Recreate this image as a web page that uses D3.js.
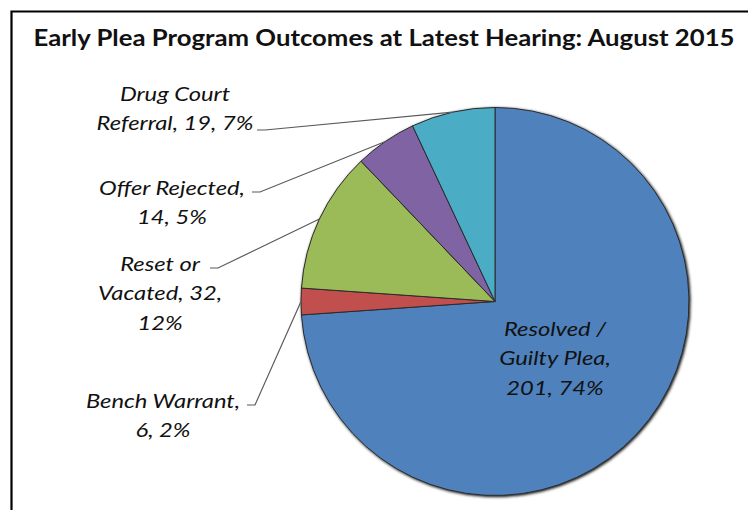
<!DOCTYPE html>
<html>
<head>
<meta charset="utf-8">
<script src="https://cdn.jsdelivr.net/npm/d3@7"></script>
<style>
  body { margin: 0; background: #fff; }
  svg { display: block; font-family: Lato, "Open Sans", sans-serif; }
</style>
</head>
<body>
<div id="chart"><svg width="748" height="510"></svg></div>
<script>
// slices, clockwise from 12 o'clock
var categories = ["Resolved / Guilty Plea", "Bench Warrant", "Reset or Vacated", "Offer Rejected", "Drug Court Referral"];
var counts = [201, 6, 32, 14, 19];
var percents = ["74%", "2%", "12%", "5%", "7%"];
var colors = ["#4f81bd", "#c0504d", "#9bbb59", "#8064a2", "#4bacc6"];

// label lines as drawn in the chart
var labelLines = [
    ["Resolved /", "Guilty Plea,", "201, 74%"],
    ["Bench Warrant,", "6, 2%"],
    ["Reset or", "Vacated, 32,", "12%"],
    ["Offer Rejected,", "14, 5%"],
    ["Drug Court", "Referral, 19, 7%"]
];
// label anchor (center x, first baseline y) and where the leader starts
var labelPos = [
    { x: 555, y: 336, lead: null },
    { x: 163, y: 408, lead: [247, 405] },
    { x: 160, y: 271, lead: [210, 268] },
    { x: 172, y: 195, lead: [252, 192] },
    { x: 175, y: 101, lead: [257, 130] }
];

var svg = d3.select("svg");
var width = 748, height = 510;

// frame
svg.append("path")
    .attr("d", "M11.5,510 L11.5,11.5 L748,11.5")
    .attr("fill", "none")
    .attr("stroke", "#000")
    .attr("stroke-width", 2.2);

svg.append("text")
    .attr("transform", "translate(384,46) scale(1.17,1)")
    .attr("text-anchor", "middle")
    .style("font-size", "22px")
    .style("font-weight", "bold")
    .style("fill", "#111")
    .text("Early Plea Program Outcomes at Latest Hearing: August 2015");

var cx = 495, cy = 301.5, radius = 194;

var pie = d3.pie().sort(null).value(function(d) { return d; });
var arcs = pie(counts);
var arc = d3.arc().innerRadius(0).outerRadius(radius);

var g = svg.append("g").attr("transform", "translate(" + cx + "," + cy + ")");

var defs = svg.append("defs");
var f = defs.append("filter").attr("id", "shadow").attr("x", "-10%").attr("y", "-10%").attr("width", "120%").attr("height", "120%");
f.append("feGaussianBlur").attr("in", "SourceAlpha").attr("stdDeviation", 1.5);
f.append("feOffset").attr("dx", 1).attr("dy", 1).attr("result", "b");
var m = f.append("feMerge");
m.append("feMergeNode").attr("in", "b");
m.append("feMergeNode").attr("in", "SourceGraphic");

g.append("g").attr("filter", "url(#shadow)")
  .selectAll("path")
  .data(arcs)
  .enter().append("path")
    .attr("d", arc)
    .style("fill", function(d, i) { return colors[i]; })
    .style("stroke", "#2b2b2b")
    .style("stroke-width", 1);

// leader lines
arcs.forEach(function(d, i) {
    var p = labelPos[i];
    if (!p.lead) return;
    var mid = (d.startAngle + d.endAngle) / 2;
    var ex = cx + radius * Math.sin(mid), ey = cy - radius * Math.cos(mid);
    svg.append("polyline")
        .attr("points", [[p.lead[0], p.lead[1]], [p.lead[0] + 8, p.lead[1]], [ex, ey]].map(function(q) { return q.join(","); }).join(" "))
        .attr("fill", "none")
        .attr("stroke", "#5a5a5a")
        .attr("stroke-width", 1.2);
});

// labels
labelLines.forEach(function(lines, i) {
    var p = labelPos[i];
    var t = svg.append("text")
        .attr("transform", "translate(" + p.x + "," + p.y + ") scale(1.25,1)")
        .attr("text-anchor", "middle")
        .style("font-size", "19px")
        .style("font-style", "italic")
        .style("fill", "#111");
    lines.forEach(function(s, j) {
        t.append("tspan").attr("x", 0).attr("y", j * 29.5).text(s);
    });
});
</script>
</body>
</html>
